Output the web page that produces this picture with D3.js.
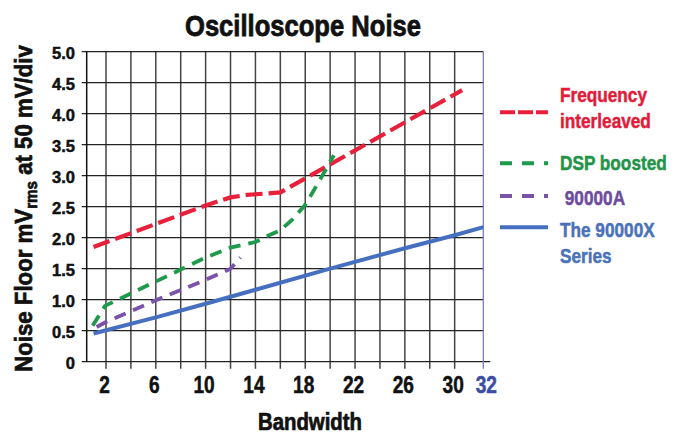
<!DOCTYPE html>
<html>
<head>
<meta charset="utf-8">
<script src="https://cdn.jsdelivr.net/npm/d3@7"></script>
<style>
  body { margin: 0; background: #fff; }
  text { font-family: "Liberation Sans", Arial, sans-serif; font-weight: bold; stroke-width: 0.5; }
</style>
</head>
<body>
<svg id="chart" width="681" height="434"></svg>
<script>
// bandwidth (x) / noise floor (y)
const freqBw    = [1, 10, 12, 13.3, 16, 30.6];
const freqNoise = [1.85, 2.52, 2.65, 2.69, 2.73, 4.38];

const dspBw    = [0.93, 1.92, 10, 12, 14, 15, 16, 17, 18, 19, 20.3];
const dspNoise = [0.58, 0.9, 1.68, 1.84, 1.93, 2.03, 2.12, 2.3, 2.53, 2.87, 3.33];

const aBw    = [1.25, 2, 6, 10, 12, 12.8];
const aNoise = [0.56, 0.64, 0.99, 1.32, 1.5, 1.68];

const xBw    = [1, 6, 10, 14, 20, 26, 30, 32.3];
const xNoise = [0.455, 0.715, 0.935, 1.16, 1.5, 1.83, 2.04, 2.17];

const gridX   = [2, 4, 6, 8, 10, 12, 14, 16, 18, 20, 22, 24, 26, 28, 30];
const labelX  = [2, 6, 10, 14, 18, 22, 26, 30];
const lastX   = "32";
const yTicks  = [0, 0.5, 1, 1.5, 2, 2.5, 3, 3.5, 4, 4.5, 5];

const seriesNames = [["Frequency", "interleaved"], ["DSP boosted"], [" 90000A"], ["The 90000X", "Series"]];

const margin = {top: 51.7, right: 197.7, bottom: 72.3, left: 86.7};
const width = 681, height = 434;

const svg = d3.select("svg#chart");

const x = d3.scaleLinear().domain([0.45, 32.3]).range([margin.left, width - margin.right]);
const y = d3.scaleLinear().domain([0, 5]).range([height - margin.bottom, margin.top]);

// squeeze text horizontally (the original uses a condensed face)
function squeeze(sel, f) {
  sel.each(function() {
    const len = this.getComputedTextLength();
    d3.select(this).attr("textLength", len * f).attr("lengthAdjust", "spacingAndGlyphs");
  });
}
function fitWidth(sel, w) {
  sel.attr("textLength", w).attr("lengthAdjust", "spacingAndGlyphs");
}

// grid
svg.append("g").selectAll("line").data(gridX).enter().append("line")
  .attr("x1", d => x(d)).attr("x2", d => x(d))
  .attr("y1", y(5)).attr("y2", y(0) + 7)
  .attr("stroke", "#444").attr("stroke-width", 1.5);

svg.append("g").selectAll("line").data(yTicks).enter().append("line")
  .attr("x1", x.range()[0] - 5).attr("x2", d => d === 0 ? x.range()[1] + 7 : x.range()[1])
  .attr("y1", d => y(d)).attr("y2", d => y(d))
  .attr("stroke", "#222").attr("stroke-width", 1.3);

// left axis + blue right edge
svg.append("line").attr("x1", x.range()[0]).attr("x2", x.range()[0])
  .attr("y1", y(5)).attr("y2", y(0)).attr("stroke", "#111").attr("stroke-width", 1.5);
svg.append("line").attr("x1", x.range()[1]).attr("x2", x.range()[1])
  .attr("y1", y(5)).attr("y2", y(0) + 7).attr("stroke", "#6a74c0").attr("stroke-width", 1.2);

// tick labels
svg.append("g").selectAll("text").data(yTicks).enter().append("text")
  .attr("x", 75).attr("y", d => y(d) + 7.5)
  .attr("text-anchor", "end").attr("font-size", 16.5).attr("fill", "#111").attr("stroke", "#111")
  .text(d => d === 0 ? "0" : d.toFixed(1));

svg.append("g").selectAll("text").data(labelX).enter().append("text")
  .attr("x", d => x(d) - 1.5).attr("y", y(0) + 31.5)
  .attr("text-anchor", "middle").attr("font-size", 23).attr("fill", "#111").attr("stroke", "#111")
  .text(d => d)
  .call(squeeze, 0.83);
svg.append("text").attr("x", x.range()[1] + 3).attr("y", y(0) + 31.5)
  .attr("text-anchor", "middle").attr("font-size", 23).attr("fill", "#3d4ea2").attr("stroke", "#3d4ea2")
  .text(lastX)
  .call(squeeze, 0.83);

// titles
svg.append("text").attr("x", 303).attr("y", 36).attr("text-anchor", "middle")
  .attr("font-size", 30).attr("fill", "#111").attr("stroke", "#111").style("stroke-width", 0.8)
  .text("Oscilloscope Noise")
  .call(fitWidth, 236);
svg.append("text").attr("x", 310).attr("y", 430).attr("text-anchor", "middle")
  .attr("font-size", 23).attr("fill", "#111").attr("stroke", "#111").style("stroke-width", 0.7)
  .text("Bandwidth")
  .call(fitWidth, 104);

const yt = svg.append("text")
  .attr("text-anchor", "middle").attr("font-size", 23.5).attr("fill", "#111")
  .attr("stroke", "#111").style("stroke-width", 0.7);
yt.append("tspan").text("Noise Floor mV");
yt.append("tspan").attr("font-size", 16).attr("dy", 5).text("rms");
yt.append("tspan").attr("dy", -5).text(" at 50 mV/div");
const ytLen = yt.node().getComputedTextLength();
yt.attr("transform", translate(31.5, 208.5) + " rotate(-90) scale(" + (327 / ytLen) + ",1)");

// series
const line = d3.line().x(d => x(d[0])).y(d => y(d[1]));
const series = [
  {bw: freqBw, noise: freqNoise, color: "#e8203b", w: 4.2, dash: "17,6"},
  {bw: dspBw, noise: dspNoise, color: "#1e9a4a", w: 3.8, dash: "12,8"},
  {bw: aBw, noise: aNoise, color: "#7a52a8", w: 3.8, dash: "12,8"},
  {bw: xBw, noise: xNoise, color: "#4670bf", w: 4, dash: null}
];
svg.append("g").selectAll("path").data(series).enter().append("path")
  .attr("d", s => line(d3.zip(s.bw, s.noise)))
  .attr("fill", "none").attr("stroke", s => s.color)
  .attr("stroke-width", s => s.w).attr("stroke-dasharray", s => s.dash);

// legend
const textColors = ["#e11c3b", "#229449", "#6d4c9d", "#4a72b8"];
const legendLineY = [112.3, 163.3, 196, 227.3];
const legendTextY = [101.7, 170, 205, 236.7];
const legendDash = ["15,3", "12,10", "12,10", null];
const lg = svg.append("g");
series.forEach(function(s, i) {
  lg.append("line").attr("x1", 500).attr("x2", 548)
    .attr("y1", legendLineY[i]).attr("y2", legendLineY[i])
    .attr("stroke", s.color).attr("stroke-width", 4)
    .attr("stroke-dasharray", legendDash[i]);
  seriesNames[i].forEach(function(n, j) {
    lg.append("text")
      .attr("transform", translate(560, legendTextY[i] + j * 26.6) + " scale(0.82,1)")
      .attr("font-size", 21).attr("fill", textColors[i]).attr("stroke", textColors[i])
      .attr("xml:space", "preserve").text(n);
  });
});

function translate(x, y) {
  return "translate(" + String(x) + "," + String(y) + ")";
}
</script>
</body>
</html>
